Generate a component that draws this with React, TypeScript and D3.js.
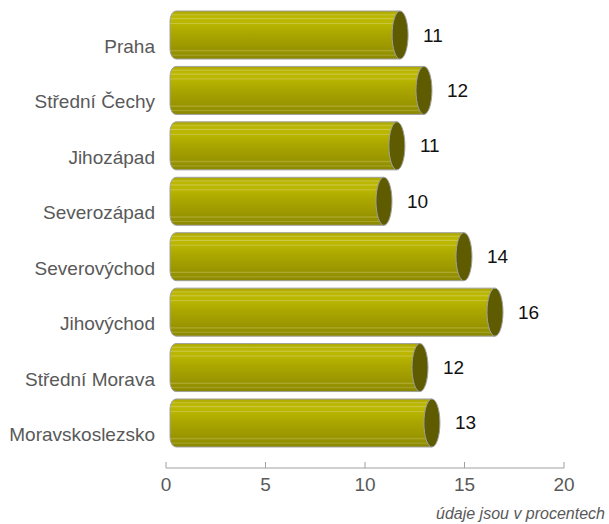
import React from 'react';
import * as d3 from 'd3';

const categories = ['Praha', 'Střední Čechy', 'Jihozápad', 'Severozápad', 'Severovýchod', 'Jihovýchod', 'Střední Morava', 'Moravskoslezsko'];
const values = [11.16, 12.36, 11.0, 10.35, 14.37, 15.93, 12.16, 12.76];
const valueLabels = ['11', '12', '11', '10', '14', '16', '12', '13'];
const tickValues = [0, 5, 10, 15, 20];
const note = 'údaje jsou v procentech';

const W = 609;
const H = 524;
const FONT = '"Liberation Sans", Arial, sans-serif';

const stripeStops: [number, string][] = [
  [0, '#a9a500'], [0.05, '#b4b000'], [0.08, '#c6c23a'], [0.1, '#b8b400'], [0.14, '#bdb900'],
  [0.16, '#ccc850'], [0.18, '#bcb800'], [0.24, '#bab600'], [0.26, '#c8c440'], [0.28, '#b8b400'],
  [0.35, '#b3af00'], [0.45, '#aca800'], [0.55, '#a6a200'], [0.7, '#9e9a00'], [0.8, '#989400'],
  [0.83, '#aeaa30'], [0.85, '#969200'], [0.9, '#929000'], [0.92, '#a8a530'], [0.94, '#8f8c00'], [1, '#8a8700'],
];

export default function App() {
  const x = d3.scaleLinear().domain([0, 20]).range([166, 564]);
  const y = d3.scaleBand<string>().domain(categories).range([7.3, 450.7]).paddingInner(0.134).paddingOuter(0.067);
  const bw = y.bandwidth();
  const axisY = 468;
  const capRx = 8;
  const depth = 12;
  const fs = 19;

  return (
    <svg width={W} height={H} style={{ position: 'absolute', left: 0, top: 0, background: '#fff' }}>
      <defs>
        <linearGradient id="body" x1="0" y1="0" x2="0" y2="1">
          {stripeStops.map(([o, c], i) => (
            <stop key={i} offset={o} stopColor={c} />
          ))}
        </linearGradient>
      </defs>
      {categories.map((c, i) => {
        const top = y(c)!;
        const bottom = top + bw;
        const cy = top + bw / 2;
        const xl = x(0) + 4;
        const xc = x(values[i]) + depth;
        const r = 6;
        const ry = 10;
        const path = `M${xc},${top} L${xl + r},${top} A${r},${ry} 0 0 0 ${xl},${top + ry} L${xl},${bottom - ry} A${r},${ry} 0 0 0 ${xl + r},${bottom} L${xc},${bottom} Z`;
        return (
          <g key={c}>
            <path d={path} fill="url(#body)" stroke="#a0a0a0" strokeWidth={1} />
            <ellipse cx={xc} cy={cy} rx={capRx} ry={bw / 2} fill="#5e5b00" stroke="#a0a0a0" strokeWidth={1} />
            <text x={xc + 23} y={cy + 6.5} fontFamily={FONT} fontSize={fs} fill="#111">
              {valueLabels[i]}
            </text>
            <text x={155} y={cy + 18} textAnchor="end" fontFamily={FONT} fontSize={fs} fill="#595959">
              {c}
            </text>
          </g>
        );
      })}
      <line x1={x(0)} x2={x(20)} y1={axisY} y2={axisY} stroke="#a0a0a0" strokeWidth={1} />
      {tickValues.map((t) => (
        <g key={t}>
          <line x1={x(t)} x2={x(t)} y1={axisY - 6} y2={axisY} stroke="#a0a0a0" strokeWidth={1} />
          <text x={x(t)} y={491} textAnchor="middle" fontFamily={FONT} fontSize={fs} fill="#595959">
            {t}
          </text>
        </g>
      ))}
      <text x={605} y={519} textAnchor="end" fontFamily={FONT} fontSize={16} fontStyle="italic" fill="#595959">
        {note}
      </text>
    </svg>
  );
}
